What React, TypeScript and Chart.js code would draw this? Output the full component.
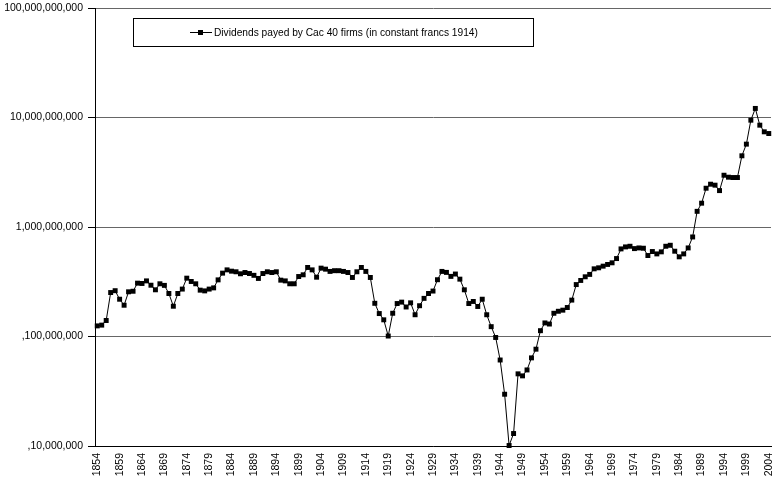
import React, { useEffect, useRef } from 'react';
import { Chart, registerables } from 'chart.js';

Chart.register(...registerables);

// Categories: years
const years = [
  '1854', '1855', '1856', '1857', '1858', '1859', '1860', '1861', '1862', '1863',
  '1864', '1865', '1866', '1867', '1868', '1869', '1870', '1871', '1872', '1873',
  '1874', '1875', '1876', '1877', '1878', '1879', '1880', '1881', '1882', '1883',
  '1884', '1885', '1886', '1887', '1888', '1889', '1890', '1891', '1892', '1893',
  '1894', '1895', '1896', '1897', '1898', '1899', '1900', '1901', '1902', '1903',
  '1904', '1905', '1906', '1907', '1908', '1909', '1910', '1911', '1912', '1913',
  '1914', '1915', '1916', '1917', '1918', '1919', '1920', '1921', '1922', '1923',
  '1924', '1925', '1926', '1927', '1928', '1929', '1930', '1931', '1932', '1933',
  '1934', '1935', '1936', '1937', '1938', '1939', '1940', '1941', '1942', '1943',
  '1944', '1945', '1946', '1947', '1948', '1949', '1950', '1951', '1952', '1953',
  '1954', '1955', '1956', '1957', '1958', '1959', '1960', '1961', '1962', '1963',
  '1964', '1965', '1966', '1967', '1968', '1969', '1970', '1971', '1972', '1973',
  '1974', '1975', '1976', '1977', '1978', '1979', '1980', '1981', '1982', '1983',
  '1984', '1985', '1986', '1987', '1988', '1989', '1990', '1991', '1992', '1993',
  '1994', '1995', '1996', '1997', '1998', '1999', '2000', '2001', '2002', '2003',
  '2004',
];

// Dividends, in millions of constant 1914 francs
const dividends = [
  125, 127, 140, 252, 262, 219, 193, 256, 259, 307,
  305, 322, 294, 267, 303, 293, 247, 189, 247, 271,
  341, 318, 303, 265, 261, 271, 278, 329, 379, 406,
  395, 390, 374, 384, 376, 362, 339, 376, 390, 384,
  390, 327, 322, 303, 303, 353, 366, 427, 406, 348,
  421, 412, 393, 399, 399, 393, 384, 346, 390, 427,
  393, 346, 201, 162, 142, 101, 163, 200, 206, 186,
  203, 158, 191, 223, 247, 260, 330, 393, 385, 354,
  372, 334, 267, 200, 209, 188, 219, 158, 123, 98,
  61, 29.7, 10.1, 13, 45.6, 43.7, 49.5, 63.8, 76.6, 113,
  133, 130, 163, 170, 174, 184, 215, 298, 325, 351,
  369, 415, 424, 439, 455, 471, 515, 631, 658, 667,
  635, 644, 640, 549, 597, 568, 593, 667, 681, 601,
  534, 568, 644, 811, 1390, 1650, 2260, 2460, 2410, 2150,
  2970, 2850, 2830, 2830, 4470, 5710, 9450, 12100, 8510, 7400,
  7140,
];

const xTickLabels = [
  '1854', '1859', '1864', '1869', '1874', '1879', '1884', '1889', '1894', '1899',
  '1904', '1909', '1914', '1919', '1924', '1929', '1934', '1939', '1944', '1949',
  '1954', '1959', '1964', '1969', '1974', '1979', '1984', '1989', '1994', '1999',
  '2004',
];

// y ticks (in millions) and their printed labels
const yTickValues = [10, 100, 1000, 10000, 100000];
const yTickLabels = [',10,000,000', ',100,000,000', '1,000,000,000', '10,000,000,000', '100,000,000,000'];

const seriesLabel = 'Dividends payed by Cac 40 firms (in constant francs 1914)';

const FONT = 'Arial, "Liberation Sans", sans-serif';

const legendBox = {
  id: 'legendBox',
  afterDraw(chart: any) {
    const ctx = chart.ctx as CanvasRenderingContext2D;
    ctx.save();
    ctx.fillStyle = '#fff';
    ctx.fillRect(133.5, 18.5, 400, 28);
    ctx.strokeStyle = '#000';
    ctx.lineWidth = 1;
    ctx.strokeRect(133.5, 18.5, 400, 28);
    ctx.beginPath();
    ctx.moveTo(190, 32.5);
    ctx.lineTo(212, 32.5);
    ctx.stroke();
    ctx.fillStyle = '#000';
    ctx.fillRect(198, 30, 5, 5);
    ctx.font = '10.2px ' + FONT;
    ctx.textBaseline = 'middle';
    ctx.textAlign = 'left';
    ctx.fillText(seriesLabel, 214, 33);
    ctx.restore();
  },
};

export default function App() {
  const canvasRef = useRef<HTMLCanvasElement | null>(null);

  useEffect(() => {
    const canvas = canvasRef.current;
    if (!canvas) return;
    const chart = new Chart(canvas, {
      type: 'line',
      data: {
        labels: years,
        datasets: [
          {
            label: seriesLabel,
            data: dividends,
            borderColor: '#000',
            borderWidth: 1,
            pointStyle: 'rect',
            pointRadius: 3.5,
            pointBackgroundColor: '#000',
            pointBorderColor: '#000',
            pointBorderWidth: 0,
            tension: 0,
            fill: false,
            clip: false,
          } as any,
        ],
      },
      options: {
        responsive: false,
        animation: false,
        devicePixelRatio: 1,
        layout: { padding: { top: 8, right: 0, bottom: 0, left: 0 } },
        plugins: {
          legend: { display: false },
          tooltip: { enabled: false },
          title: { display: false },
        },
        scales: {
          x: {
            type: 'category',
            offset: true,
            grid: { display: false, drawTicks: false },
            border: { display: true, color: '#000', width: 1 },
            ticks: {
              autoSkip: false,
              minRotation: 90,
              maxRotation: 90,
              padding: 7,
              color: '#000',
              font: { family: FONT, size: 10.5 },
              callback: (_v: any, index: number) => {
                const l = years[index];
                return xTickLabels.includes(l) ? l : '';
              },
            },
            afterFit: (scale: any) => {
              scale.height = 35;
              scale.paddingLeft = 0;
              scale.paddingRight = 0;
            },
          },
          y: {
            type: 'logarithmic',
            min: 10,
            max: 100000,
            grid: { color: '#666666', lineWidth: 1, drawTicks: true, tickLength: 7, tickColor: '#000' },
            border: { display: true, color: '#000', width: 1 },
            ticks: {
              padding: 5,
              color: '#000',
              font: { family: FONT, size: 10.5 },
              callback: (value: any) => {
                const i = yTickValues.indexOf(Number(value));
                return i >= 0 ? yTickLabels[i] : '';
              },
            },
            afterBuildTicks: (scale: any) => {
              scale.ticks = yTickValues.map((v) => ({ value: v }));
            },
            afterFit: (scale: any) => {
              scale.width = 95;
              scale.paddingTop = 0;
              scale.paddingBottom = 0;
            },
          },
        },
      } as any,
      plugins: [legendBox],
    });
    return () => chart.destroy();
  }, []);

  return (
    <div style={{ position: 'absolute', left: 0, top: 0, width: 775, height: 481, background: '#fff' }}>
      <canvas ref={canvasRef} width={775} height={481} style={{ display: 'block' }} />
    </div>
  );
}
